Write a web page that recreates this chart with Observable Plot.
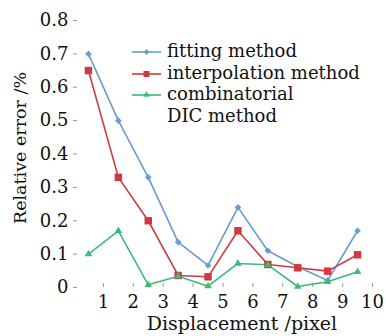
<!DOCTYPE html>
<html><head><meta charset="utf-8">
<script src="https://cdn.jsdelivr.net/npm/d3@7"></script>
<script src="https://cdn.jsdelivr.net/npm/@observablehq/plot@0.6"></script>
<style>
body{margin:0;background:#fff;}
#wrap{position:relative;width:386px;height:336px;font-family:"DejaVu Serif",serif;}
#legend{position:absolute;left:132px;top:40px;font-size:18px;line-height:21.7px;color:#111;}
#legend .row{display:flex;align-items:flex-start;white-space:nowrap;}
#legend svg{flex:none;margin-top:5px;margin-right:6px;}
</style></head><body>
<div id="wrap"><div id="chart"></div><div id="legend"></div></div>
<script>
const displacement = [0.5,1.5,2.5,3.5,4.5,5.5,6.5,7.5,8.5,9.5];
const fitting = [0.70,0.50,0.33,0.136,0.066,0.24,0.11,0.062,0.021,0.17];
const interpolation = [0.65,0.33,0.20,0.036,0.032,0.17,0.069,0.059,0.049,0.098];
const combinatorial = [0.10,0.17,0.008,0.034,0.004,0.072,0.068,0.003,0.017,0.047];
const seriesNames = ["fitting method","interpolation method","combinatorial\nDIC method"];
const colors = ["#6a9bd2","#cf3a40","#3dba78"];
const symbols = ["diamond2","square","triangle2"];
const xTicks = [1,2,3,4,5,6,7,8,9,10];
const yTicks = [0,0.1,0.2,0.3,0.4,0.5,0.6,0.7,0.8];

const seriesVals = [fitting, interpolation, combinatorial];
const data = [];
seriesVals.forEach((vals,i)=>vals.forEach((v,j)=>data.push({x:displacement[j],y:v,s:seriesNames[i],i})));

const markR = [3,4.2,3.6];
const marks = [];
seriesVals.forEach((vals,i)=>{
  const d = data.filter(e=>e.i===i);
  marks.push(Plot.line(d,{x:"x",y:"y",stroke:colors[i],strokeWidth:1.6}));
});
seriesVals.forEach((vals,i)=>{
  const d = data.filter(e=>e.i===i);
  marks.push(Plot.dot(d,{x:"x",y:"y",fill:colors[i],stroke:"none",symbol:()=>symbols[i],r:markR[i]}));
});

const chart = Plot.plot({
  width:386,height:336,
  marginLeft:73,marginRight:14,marginTop:20,marginBottom:49,
  style:{fontFamily:"DejaVu Serif, serif",fontSize:"17px",color:"#111",background:"#fff"},
  x:{domain:[0,10]},
  y:{domain:[0,0.8]},
  symbol:{type:"identity"},
  marks:[
    Plot.axisY(yTicks,{tickSize:-4,tickPadding:9,tickFormat:d=>d===0?"0":d3.format(".1f")(d),stroke:"#999",fill:"#111",label:null,line:true,fontSize:18}),
    Plot.axisX(xTicks,{tickSize:-4,tickPadding:12,stroke:"#999",fill:"#111",label:null,line:true,fontSize:18}),
    ...marks,
    Plot.text(["Relative error /%"],{frameAnchor:"left",textAnchor:"middle",dx:-53,dy:-6,rotate:-90,fontSize:17.5,fill:"#111"}),
    Plot.text(["Displacement /pixel"],{frameAnchor:"bottom",dy:42,dx:19,fontSize:19,fill:"#111"})
  ]
});
document.getElementById("chart").appendChild(chart);

const lg = document.getElementById("legend");
seriesNames.forEach((n,i)=>{
  const row = document.createElement("div");
  row.className="row";
  const sym = d3.symbol(i===0?d3.symbolDiamond2:i===1?d3.symbolSquare:d3.symbolTriangle2, [22,36,30][i])();
  row.innerHTML = `<svg width="29" height="14"><line x1="0" x2="29" y1="7" y2="7" stroke="${colors[i]}" stroke-width="1.6"/><path transform="translate(14.5,7)" d="${sym}" fill="${colors[i]}"/></svg><span>${n.replace("\n","<br>")}</span>`;
  lg.appendChild(row);
});
</script>
</body></html>
